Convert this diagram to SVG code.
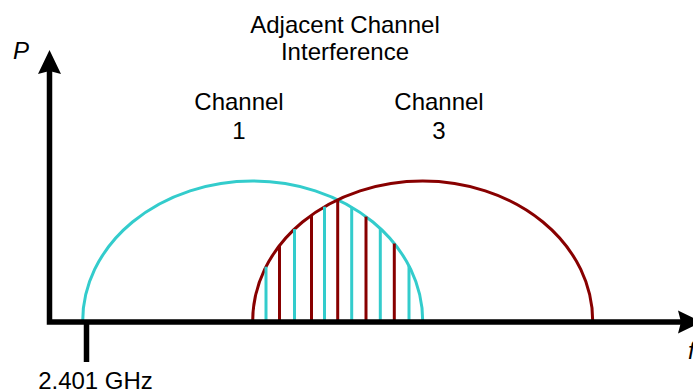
<svg xmlns="http://www.w3.org/2000/svg" width="693" height="392" viewBox="0 0 693 392">
<style>
text{font-family:"Liberation Sans",Arial,Helvetica,sans-serif;font-size:24px;fill:#000}
.c{text-anchor:middle}
.it{font-style:italic}
.cy{fill:none;stroke:#33CCCC;stroke-width:3}
.rd{fill:none;stroke:#880000;stroke-width:3}
.ax{fill:none;stroke:#000;stroke-width:5.5}
</style>
<rect width="693" height="392" fill="#fff"/>
<g id="title"><text class="c" x="345" y="33">Adjacent Channel</text><text class="c" x="345" y="60">Interference</text></g>
<g id="channel1-label"><text class="c" x="239" y="110">Channel</text><text class="c" x="239" y="139">1</text></g>
<g id="channel3-label"><text class="c" x="439" y="110">Channel</text><text class="c" x="439" y="139">3</text></g>
<g id="channel1"><path class="cy" d="M82.7,321 A170,140 0 0 1 422.7,321"/></g>
<g id="channel3"><path class="rd" d="M252.7,321 A170,140 0 0 1 592.7,321"/></g>
<g id="overlap">
<line class="cy" x1="266" y1="321" x2="266" y2="266.7"/>
<line class="rd" x1="279.5" y1="321" x2="279.5" y2="245.6"/>
<line class="cy" x1="294.5" y1="321" x2="294.5" y2="229.1"/>
<line class="rd" x1="311.5" y1="321" x2="311.5" y2="215.1"/>
<line class="cy" x1="324.5" y1="321" x2="324.5" y2="206.7"/>
<line class="rd" x1="337.7" y1="321" x2="337.7" y2="199.8"/>
<line class="cy" x1="351.7" y1="321" x2="351.7" y2="207.2"/>
<line class="rd" x1="366" y1="321" x2="366" y2="216.6"/>
<line class="cy" x1="380.3" y1="321" x2="380.3" y2="228.5"/>
<line class="rd" x1="394.3" y1="321" x2="394.3" y2="243.5"/>
<line class="cy" x1="409" y1="321" x2="409" y2="265.9"/>
</g>
<g id="connectors">
<path class="ax" d="M49.5,70 V322 H681"/>
<polygon points="49.5,50 38,74 49.5,71 61,74" fill="#000"/>
<polygon points="702,322 678,310.5 681,322 678,333.5" fill="#000"/>
<line x1="86.5" y1="322" x2="86.5" y2="362" stroke="#000" stroke-width="5.5"/>
</g>
<g id="labels">
<text class="it" x="13" y="59">P</text>
<text class="it" x="688" y="359">f</text>
<text class="c" x="95.5" y="389">2.401 GHz</text>
</g>
</svg>
